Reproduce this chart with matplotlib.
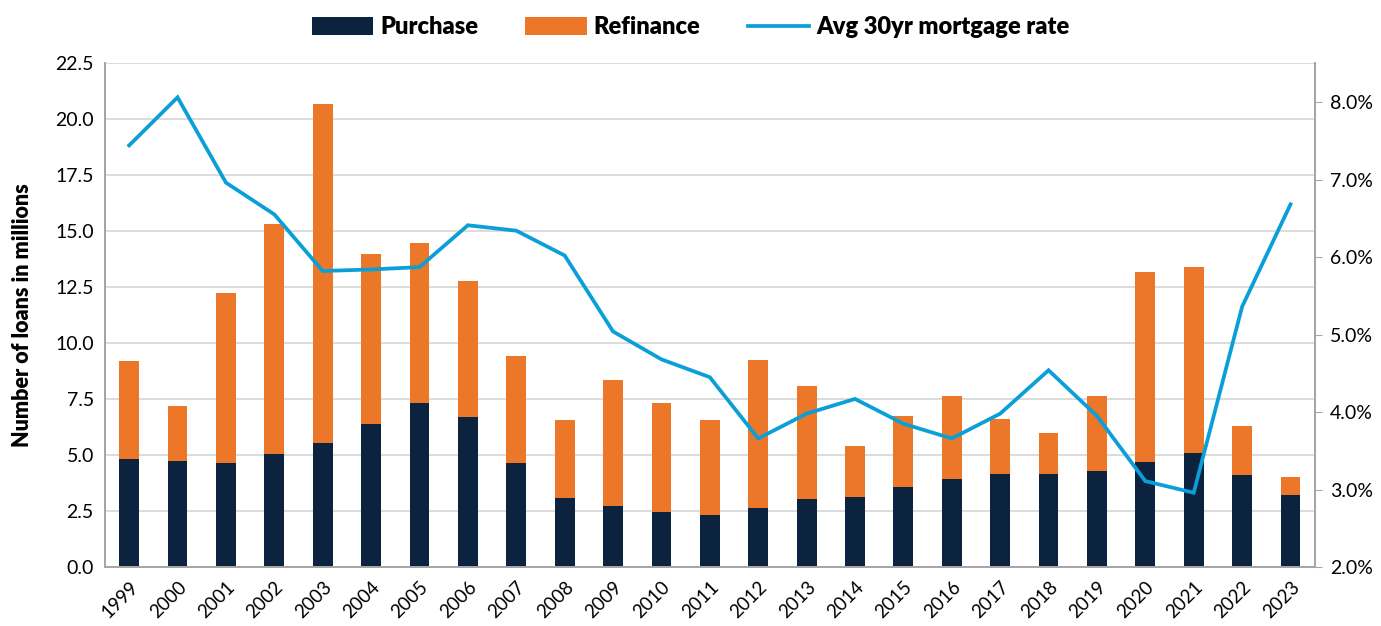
import numpy as np
import matplotlib.pyplot as plt
from matplotlib.ticker import FuncFormatter

# data
years = [str(y) for y in range(1999, 2024)]
purchase = [4.82, 4.76, 4.64, 5.06, 5.55, 6.40, 7.34, 6.71, 4.63, 3.08,
            2.72, 2.47, 2.34, 2.66, 3.04, 3.13, 3.57, 3.93, 4.14, 4.15,
            4.29, 4.69, 5.09, 4.12, 3.23]
total = [9.21, 7.19, 12.22, 15.33, 20.68, 14.0, 14.46, 12.77, 9.42, 6.56,
         8.35, 7.34, 6.59, 9.23, 8.09, 5.40, 6.76, 7.65, 6.61, 6.0,
         7.65, 13.2, 13.42, 6.32, 4.03]
refinance = [t - p for t, p in zip(total, purchase)]
rate = [7.44, 8.06, 6.96, 6.55, 5.82, 5.84, 5.87, 6.41, 6.34, 6.02,
        5.04, 4.68, 4.45, 3.66, 3.98, 4.17, 3.85, 3.66, 3.98, 4.54,
        3.95, 3.11, 2.96, 5.36, 6.68]

navy = '#0C2340'
orange = '#ED7728'
blue = '#0A9FD8'
axis_gray = '#A6A6A6'

plt.rcParams['font.family'] = ['Lato', 'DejaVu Sans']

fig = plt.figure(figsize=(13.81, 6.26), dpi=100)
ax1 = fig.add_axes([0.076, 0.094, 0.876, 0.805])
ax2 = ax1.twinx()

x = np.arange(len(years))
b1 = ax1.bar(x, purchase, width=0.41, color=navy, label='Purchase', zorder=2)
b2 = ax1.bar(x, refinance, width=0.41, bottom=purchase, color=orange,
             label='Refinance', zorder=2)
ln, = ax2.plot(x, rate, color=blue, lw=2.7, label='Avg 30yr mortgage rate',
               solid_joinstyle='miter')

ax1.set_xlim(-0.5, len(years) - 0.5)
ax1.set_ylim(0, 22.5)
ax1.set_yticks(np.arange(0, 22.51, 2.5))
ax1.yaxis.set_major_formatter(FuncFormatter(lambda v, p: '%.1f' % v))
ax1.grid(axis='y', color='#D9D9D9', lw=1.3, zorder=0)
ax1.set_axisbelow(True)
ax1.set_xticks(x)
ax1.set_xticklabels(years, rotation=45, ha='right', rotation_mode='anchor')
ax1.tick_params(axis='x', length=0, labelsize=13.5, pad=8)
ax1.tick_params(axis='y', length=0, labelsize=14, pad=8)
ax1.set_ylabel('Number of loans in millions', fontsize=15.5, fontweight='heavy',
               labelpad=16)

ax2.set_ylim(2, 8.5)
ax2.set_yticks(np.arange(2, 8.01, 1))
ax2.yaxis.set_major_formatter(FuncFormatter(lambda v, p: '%.1f%%' % v))
ax2.tick_params(axis='y', length=5, color=axis_gray, labelsize=14, pad=6)

for ax in (ax1, ax2):
    ax.spines['top'].set_visible(False)
    for s in ('left', 'right', 'bottom'):
        ax.spines[s].set_color(axis_gray)
        ax.spines[s].set_linewidth(1.3)

fig.legend(handles=[b1, b2, ln], loc='upper center', ncol=3,
           bbox_to_anchor=(0.5, 1.008), frameon=False,
           prop={'weight': 'heavy', 'size': 17}, handlelength=2.6,
           handleheight=0.8, handletextpad=0.3, columnspacing=2.0)

fig.savefig('out.png', dpi=100)
